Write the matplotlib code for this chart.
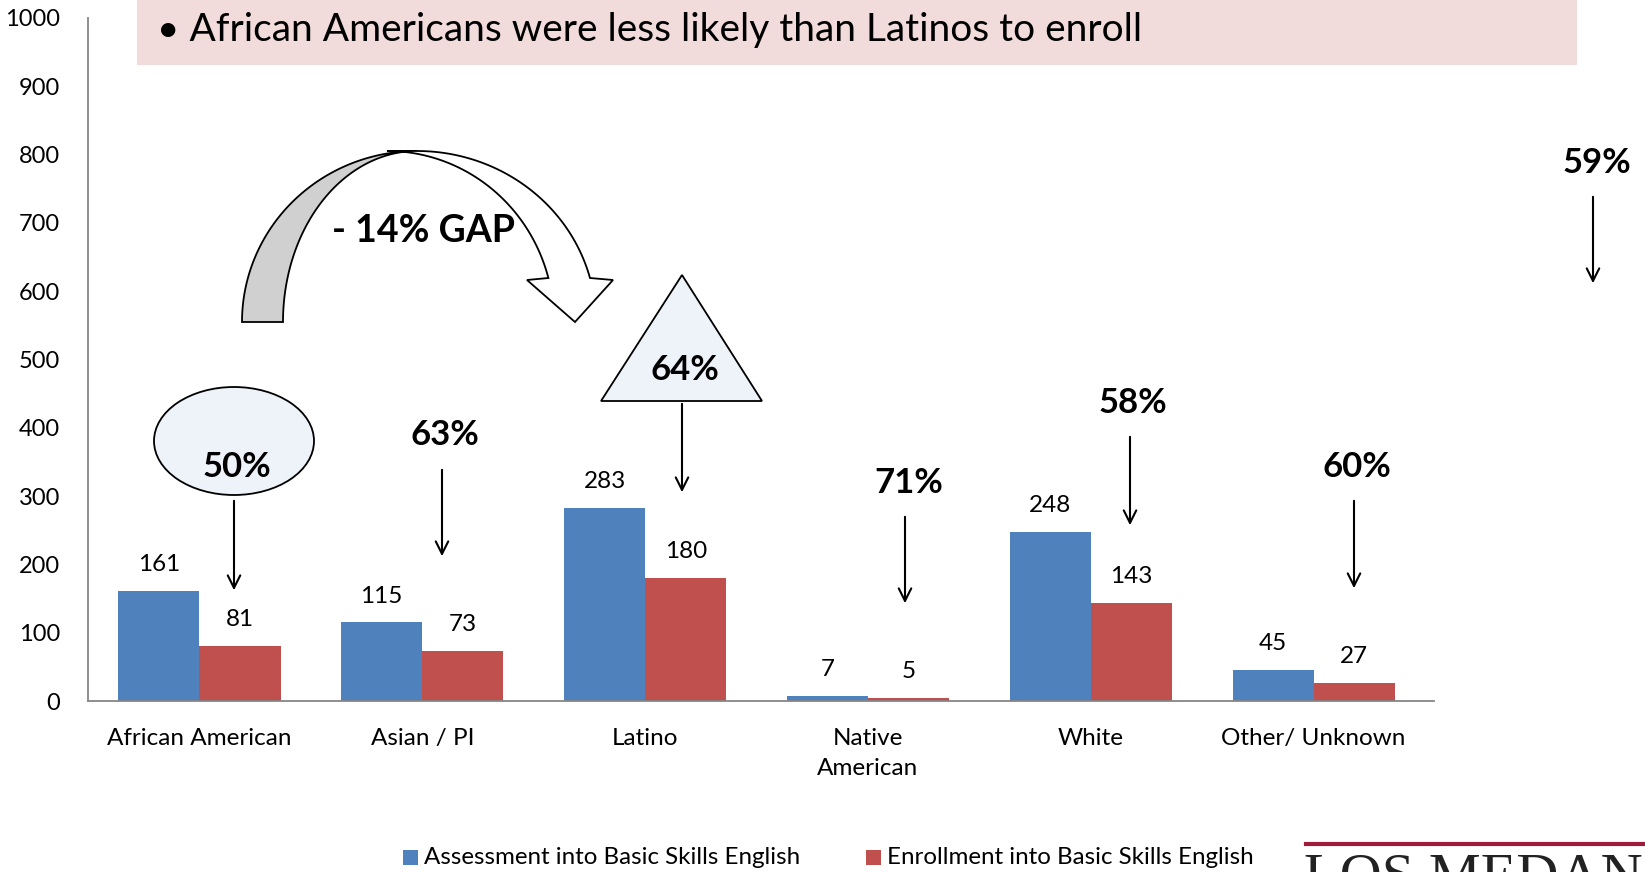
import numpy as np
import matplotlib
matplotlib.use("Agg")
import matplotlib.pyplot as plt
from matplotlib.patches import Ellipse, Polygon, Rectangle

plt.rcParams['font.family'] = ['Lato', 'DejaVu Sans']

categories = ["African American", "Asian / PI", "Latino", "Native\nAmerican", "White", "Other/ Unknown"]
assessment = [161, 115, 283, 7, 248, 45]
enrollment = [81, 73, 180, 5, 143, 27]
series_names = ["Assessment into Basic Skills English", "Enrollment into Basic Skills English"]
y_ticks = [0, 100, 200, 300, 400, 500, 600, 700, 800, 900, 1000]
pct_labels = ["50%", "63%", "64%", "71%", "58%", "60%", "59%"]
title_text = "\u2022 African Americans were less likely than Latinos to enroll"
gap_text = "- 14% GAP"

BLUE = "#4F81BD"
RED = "#C0504D"
W, H = 1645, 872

fig = plt.figure(figsize=(W / 100, H / 100), dpi=100)
ax = fig.add_axes([88 / W, 1 - 701 / H, (1434 - 88) / W, (701 - 18) / H])

x = np.arange(len(categories))
bw = 0.364
b1 = ax.bar(x - bw / 2, assessment, bw, color=BLUE, label=series_names[0], zorder=2)
b2 = ax.bar(x + bw / 2, enrollment, bw, color=RED, label=series_names[1], zorder=2)
for bars, vals in ((b1, assessment), (b2, enrollment)):
    for r, v in zip(bars, vals):
        ax.annotate(f"{v}", (r.get_x() + r.get_width() / 2, v), xytext=(0, 19),
                    textcoords="offset points", ha="center", va="center", fontsize=17.5)

ax.set_xlim(-0.5, len(categories) - 0.46)
ax.set_ylim(0, 1000)
ax.set_yticks(y_ticks)
ax.set_yticklabels([str(t) for t in y_ticks], fontsize=17)
ax.set_xticks(x)
ax.set_xticklabels(categories, fontsize=17.5, linespacing=1.55)
ax.tick_params(axis='both', length=0)
ax.tick_params(axis='y', pad=20)
ax.tick_params(axis='x', pad=19.5)
for s in ("top", "right"):
    ax.spines[s].set_visible(False)
for s in ("left", "bottom"):
    ax.spines[s].set_color("#868686")
    ax.spines[s].set_linewidth(1.3)

# overlay in pixel coordinates for annotations
ov = fig.add_axes([0, 0, 1, 1], zorder=5)
ov.set_xlim(0, W)
ov.set_ylim(H, 0)
ov.axis("off")
ov.patch.set_alpha(0)

# title box
ov.add_patch(Rectangle((137, 0), 1440, 65, facecolor="#F2DCDB", edgecolor="none"))
ov.text(157, 30, title_text, fontsize=28, va="center", ha="left")

# ellipse + 50%
ov.add_patch(Ellipse((234, 441), 160, 108, facecolor="#EEF2F9", edgecolor="black", lw=1.3))
# triangle + 64%
ov.add_patch(Polygon([(682, 275), (601, 401), (762, 401)], closed=True,
                     facecolor="#EEF2F9", edgecolor="black", lw=1.3))

pct_pos = [(237, 467), (445, 435), (685, 370), (909, 483), (1133, 403), (1357, 467), (1597, 163)]
arrows = [((234, 498), (234, 593)), ((442, 467), (442, 559)), ((682, 401), (682, 495)),
          ((905, 514), (905, 606)), ((1130, 434), (1130, 528)), ((1354, 498), (1354, 591)),
          ((1593, 194), (1593, 286))]
for lab, (px, py) in zip(pct_labels, pct_pos):
    ov.text(px, py, lab, fontsize=25, fontweight="bold", ha="center", va="center")
for (s, e) in arrows:
    ov.annotate("", xy=e, xytext=s,
                arrowprops=dict(arrowstyle="->,head_length=0.9,head_width=0.45", lw=1.5, color="black"))

# curved arrow
def arc(cx, cy, rx, ry, t0, t1, n=80):
    t = np.linspace(t0, t1, n)
    return np.column_stack([cx + rx * np.cos(t), cy - ry * np.sin(t)])

outer_l = arc(417, 322, 175, 171, np.pi, np.pi / 2)
inner_l = arc(417, 322, 134, 171, np.pi / 2, np.pi)
gray = np.vstack([outer_l, inner_l])
ov.add_patch(Polygon(gray, closed=True, facecolor="#D0D0D0", edgecolor="black", lw=1.3))
t_end_o = np.arcsin((322 - 278) / 171)
outer_r = arc(417, 322, 179, 171, np.pi / 2, t_end_o)
inner_r = arc(387, 322, 167, 171, t_end_o, np.pi / 2)
head = np.array([[613, 280], [575, 322], [527, 280]])
white = np.vstack([outer_r, head, inner_r])
ov.add_patch(Polygon(white, closed=True, facecolor="white", edgecolor="black", lw=1.3))
ov.text(424, 231, gap_text, fontsize=27, fontweight="bold", ha="center", va="center")

# legend
ov.add_patch(Rectangle((403, 850), 15, 15, facecolor=BLUE, edgecolor="none"))
ov.text(424, 857, series_names[0], fontsize=17.4, va="center", ha="left")
ov.add_patch(Rectangle((866, 850), 15, 15, facecolor=RED, edgecolor="none"))
ov.text(887, 857, series_names[1], fontsize=17.4, va="center", ha="left")

# logo fragment (cut off at the figure edge, as in the source)
ov.plot([1306, 1645], [844, 844], color="#9E1B3C", lw=3)
ov.text(1304, 852, "LOS MEDANOS", fontsize=42, family="Liberation Serif", color="#222222",
        va="top", ha="left", clip_on=False)

fig.savefig("out.png", dpi=100)
